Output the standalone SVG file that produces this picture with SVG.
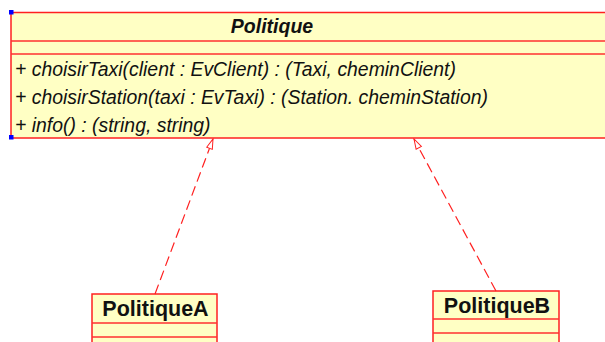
<svg xmlns="http://www.w3.org/2000/svg" width="605" height="342" viewBox="0 0 605 342">
  <style>
    .box { fill: #ffffc4; stroke: #ff2020; stroke-width: 1.5; }
    .sep { stroke: #ff3030; stroke-width: 1.5; }
    .title { font-family: "Liberation Sans", Arial, sans-serif; font-weight: bold; fill: #111; }
    .op { font-family: "Liberation Sans", Arial, sans-serif; font-style: italic; font-size: 19.4px; fill: #111; }
    .dep { fill: none; stroke: #ff2020; stroke-width: 1.2; stroke-dasharray: 10 5; }
    .handle { fill: #0000ff; }
  </style>
  <defs>
    <!-- open triangle head for realization links -->
    <marker id="realize" viewBox="0 0 12 8" refX="11" refY="4" markerWidth="12" markerHeight="8" markerUnits="userSpaceOnUse" orient="auto">
      <path d="M1,1 L11,4 L1,7 Z" fill="#ffffff" stroke="#ff2020" stroke-width="1"/>
    </marker>
  </defs>

  <g id="Politique">
    <rect class="box" x="11" y="12.5" width="600" height="125.5"/>
    <line class="sep" x1="11" y1="41" x2="605" y2="41"/>
    <line class="sep" x1="11" y1="54" x2="605" y2="54"/>
    <text class="title" x="272" y="33.3" font-size="19.5" font-style="italic" text-anchor="middle">Politique</text>
    <text class="op" x="15" y="76">+ choisirTaxi(client : EvClient) : (Taxi, cheminClient)</text>
    <text class="op" x="15" y="104">+ choisirStation(taxi : EvTaxi) : (Station. cheminStation)</text>
    <text class="op" x="15" y="132">+ info() : (string, string)</text>
    <rect class="handle" x="9" y="10" width="4.5" height="4.5"/>
    <rect class="handle" x="9" y="135" width="4.5" height="4.5"/>
  </g>

  <g id="PolitiqueA">
    <rect class="box" x="92" y="294" width="125" height="60"/>
    <line class="sep" x1="92" y1="323" x2="217" y2="323"/>
    <line class="sep" x1="92" y1="337" x2="217" y2="337"/>
    <text class="title" x="155.5" y="315.5" font-size="21.5" text-anchor="middle">PolitiqueA</text>
  </g>

  <g id="PolitiqueB">
    <rect class="box" x="433" y="291" width="126" height="60"/>
    <line class="sep" x1="433" y1="319" x2="559" y2="319"/>
    <line class="sep" x1="433" y1="333" x2="559" y2="333"/>
    <text class="title" x="497" y="312.5" font-size="21.5" text-anchor="middle">PolitiqueB</text>
  </g>

  <g id="connectors">
    <line class="dep" x1="155" y1="294" x2="213" y2="139" marker-end="url(#realize)"/>
    <line class="dep" x1="496" y1="291" x2="414" y2="139" marker-end="url(#realize)"/>
  </g>
</svg>
